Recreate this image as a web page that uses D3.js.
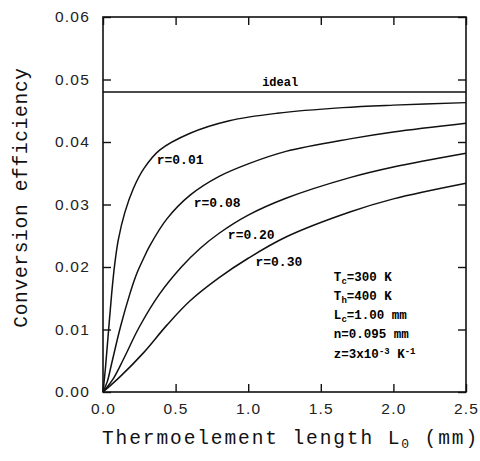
<!DOCTYPE html>
<html>
<head>
<meta charset="utf-8">
<script src="https://cdn.jsdelivr.net/npm/d3@7"></script>
<style>
  body { margin: 0; background: #fff; }
  svg { display: block; }
</style>
</head>
<body>
<svg id="chart" width="480" height="461"></svg>
<script>
// values (L0 in mm, efficiency)
const idealEff = 0.048
const rLabels = ['r=0.01', 'r=0.08', 'r=0.20', 'r=0.30']
const r001 = [[0, 0], [0.015, 0.0034], [0.03, 0.0075], [0.06, 0.0158], [0.08, 0.0203], [0.105, 0.0243],
  [0.15, 0.0287], [0.21, 0.0326], [0.28, 0.0357], [0.39, 0.0387], [0.6, 0.0414], [0.87, 0.0434],
  [1.2, 0.0446], [1.65, 0.0455], [2.0, 0.0459], [2.5, 0.0463]]
const r008 = [[0, 0], [0.03, 0.0017], [0.06, 0.0046], [0.12, 0.0104], [0.185, 0.0157], [0.23, 0.0188],
  [0.28, 0.0214], [0.32, 0.0233], [0.44, 0.0277], [0.6, 0.0315], [0.8, 0.0345], [1.0, 0.0365],
  [1.26, 0.0385], [1.7, 0.0405], [2.0, 0.0416], [2.5, 0.043]]
const r020 = [[0, 0], [0.07, 0.0021], [0.14, 0.0052], [0.25, 0.0104], [0.39, 0.0157], [0.54, 0.02],
  [0.67, 0.023], [0.8, 0.0254], [1.0, 0.0283], [1.26, 0.031], [1.7, 0.0343], [2.0, 0.036], [2.5, 0.0382]]
const r030 = [[0, 0], [0.12, 0.0025], [0.28, 0.0063], [0.44, 0.0107], [0.6, 0.0146], [0.8, 0.0183],
  [1.0, 0.0214], [1.26, 0.0248], [1.7, 0.0288], [2.0, 0.0309], [2.5, 0.0334]]
// where the labels sit, in data units
const labelAt = [[0.37, 0.0365], [0.625, 0.0296], [0.86, 0.0245], [1.05, 0.0202]]
const xTicks = [0, 0.5, 1.0, 1.5, 2.0, 2.5]
const yTicks = [0, 0.01, 0.02, 0.03, 0.04, 0.05, 0.06]

const svg = d3.select('#chart')
const margin = { left: 103, right: 14, top: 17, bottom: 69 }
const W = 480, H = 461
const x = d3.scaleLinear().domain([0, 2.5]).range([margin.left, W - margin.right])
const y = d3.scaleLinear().domain([0, 0.06]).range([H - margin.bottom, margin.top])

const tickFont = "'Liberation Sans', Arial, sans-serif"
const monoFont = "'Liberation Mono', 'Courier New', monospace"

function styleAxis (g) {
  g.select('.domain').remove()
  g.selectAll('.tick line').attr('stroke', '#111').attr('stroke-width', 1.4)
  g.selectAll('.tick text')
    .attr('fill', '#222')
    .style('font-family', tickFont)
    .style('font-size', '15.5px')
    .style('letter-spacing', '1.2px')
}

svg.append('g')
  .attr('transform', `translate(0,${y(0)})`)
  .call(d3.axisBottom(x).tickValues(xTicks).tickSize(-8).tickPadding(11).tickFormat(d3.format('.1f')))
  .call(styleAxis)

svg.append('g')
  .attr('transform', `translate(${x(0)},0)`)
  .call(d3.axisLeft(y).tickValues(yTicks).tickSize(-8).tickPadding(13).tickFormat(d3.format('.2f')))
  .call(styleAxis)

svg.append('g')
  .attr('transform', `translate(0,${y(0.06)})`)
  .call(d3.axisTop(x).tickValues(xTicks).tickSize(-8).tickFormat(''))
  .call(styleAxis)

svg.append('g')
  .attr('transform', `translate(${x(2.5)},0)`)
  .call(d3.axisRight(y).tickValues(yTicks).tickSize(-8).tickFormat(''))
  .call(styleAxis)

// frame
svg.append('rect')
  .attr('x', x(0)).attr('y', y(0.06))
  .attr('width', x(2.5) - x(0)).attr('height', y(0) - y(0.06))
  .attr('fill', 'none').attr('stroke', '#111').attr('stroke-width', 1.6)

// ideal line
svg.append('line')
  .attr('x1', x(0)).attr('x2', x(2.5))
  .attr('y1', y(idealEff)).attr('y2', y(idealEff))
  .attr('stroke', '#111').attr('stroke-width', 1.5)

svg.append('text')
  .attr('x', x(1.22)).attr('y', y(0.049))
  .attr('text-anchor', 'middle')
  .style('font-family', monoFont).style('font-weight', 'bold').style('font-size', '12px')
  .text('ideal')

const line = d3.line()
  .x(d => x(d[0]))
  .y(d => y(d[1]))
  .curve(d3.curveCatmullRom.alpha(0.5))

const series = [r001, r008, r020, r030]
svg.append('g')
  .selectAll('path')
  .data(series)
  .enter()
  .append('path')
  .attr('d', line)
  .attr('fill', 'none')
  .attr('stroke', '#111')
  .attr('stroke-width', 1.5)

svg.append('g')
  .selectAll('text')
  .data(rLabels)
  .enter()
  .append('text')
  .attr('x', (d, i) => x(labelAt[i][0]))
  .attr('y', (d, i) => y(labelAt[i][1]))
  .style('font-family', monoFont).style('font-weight', 'bold').style('font-size', '13px')
  .text(d => d)

// parameter block
const params = svg.append('text')
  .attr('x', x(1.59)).attr('y', y(0.0178))
  .style('font-family', monoFont).style('font-weight', 'bold').style('font-size', '12.5px')

function addLine (i, parts) {
  const t = params.append('tspan').attr('x', x(1.59)).attr('y', y(0.0178) + i * 19.2)
  parts.forEach(p => {
    const s = t.append('tspan').text(p.t)
    if (p.sub) s.attr('baseline-shift', '-30%').style('font-size', '9px')
    if (p.sup) s.attr('baseline-shift', '45%').style('font-size', '9px')
  })
}
addLine(0, [{ t: 'T' }, { t: 'c', sub: true }, { t: '=300 K' }])
addLine(1, [{ t: 'T' }, { t: 'h', sub: true }, { t: '=400 K' }])
addLine(2, [{ t: 'L' }, { t: 'c', sub: true }, { t: '=1.00 mm' }])
addLine(3, [{ t: 'n=0.095 mm' }])
addLine(4, [{ t: 'z=3x10' }, { t: '-3', sup: true }, { t: ' K' }, { t: '-1', sup: true }])

// axis titles
const xt = svg.append('text')
  .attr('x', (x(0) + W) / 2 - 1).attr('y', 444)
  .attr('text-anchor', 'middle')
  .attr('fill', '#111')
  .style('font-family', monoFont).style('font-size', '19.5px').style('letter-spacing', '1.9px')
xt.append('tspan').text('Thermoelement length L')
xt.append('tspan').text('0').attr('baseline-shift', '-30%').style('font-size', '13px')
xt.append('tspan').text(' (mm)')

svg.append('text')
  .attr('transform', `translate(27,${(68 + 327) / 2}) rotate(-90)`)
  .attr('text-anchor', 'middle')
  .attr('fill', '#111')
  .style('font-family', monoFont).style('font-size', '19.5px').style('letter-spacing', '0.7px')
  .text('Conversion efficiency')
</script>
</body>
</html>
